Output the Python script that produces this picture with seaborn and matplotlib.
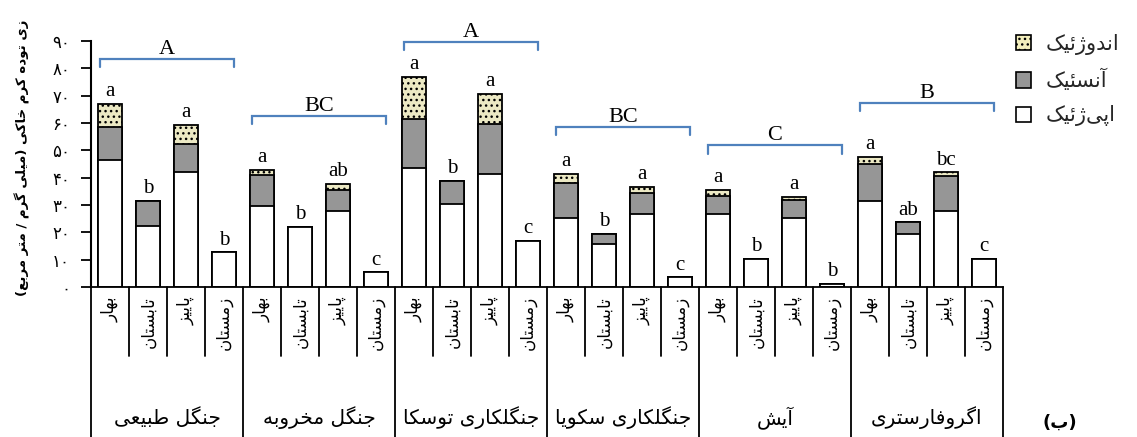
import numpy as np
import pandas as pd
import matplotlib
matplotlib.use("Agg")
import matplotlib.pyplot as plt
from matplotlib.patches import Patch
import matplotlib.transforms as mtransforms
import seaborn as sns

# ---------------- data ----------------
groups = ["جنگل طبیعی", "جنگل مخروبه", "جنگلکاری توسکا", "جنگلکاری سکویا", "آیش", "اگروفارستری"]
seasons = ["بهار", "تابستان", "پاییز", "زمستان"]
epigeic = [46.3, 22.3, 41.9, 12.7, 29.7, 21.9, 27.9, 5.4, 43.7, 30.4, 41.3, 17.0,
           25.3, 15.8, 26.7, 3.6, 26.6, 10.3, 25.4, 1.1, 31.5, 19.3, 27.9, 10.3]
anecic = [12.1, 9.3, 10.4, 0, 11.1, 0, 7.7, 0, 17.8, 8.5, 18.3, 0,
          12.9, 3.6, 7.8, 0, 6.7, 0, 6.5, 0, 13.6, 4.4, 12.8, 0]
endogeic = [8.6, 0, 7.0, 0, 2.1, 0, 2.1, 0, 15.3, 0, 11.1, 0,
            3.2, 0, 2.2, 0, 2.2, 0, 1.2, 0, 2.6, 0, 1.3, 0]
bar_letters = ["a", "b", "a", "b", "a", "b", "ab", "c", "a", "b", "a", "c",
               "a", "b", "a", "c", "a", "b", "a", "b", "a", "ab", "bc", "c"]
group_letters = ["A", "BC", "A", "BC", "C", "B"]
group_bracket_level = [83.5, 62.7, 89.6, 58.5, 51.8, 67.3]
legend_labels = ["اندوژئیک", "آنسئیک", "اپی\u200cژئیک"]
y_label = "زی توده کرم خاکی (میلی گرم / متر مربع)"
panel_label = "(ب)"
y_ticks = [0, 10, 20, 30, 40, 50, 60, 70, 80, 90]

# ---------------- simple Persian shaping ----------------
FORMS = {
    '\u0627': ('\uFE8D', '\uFE8E', None, None),
    '\u0622': ('\uFE81', '\uFE82', None, None),
    '\u0628': ('\uFE8F', '\uFE90', '\uFE91', '\uFE92'),
    '\u067E': ('\uFB56', '\uFB57', '\uFB58', '\uFB59'),
    '\u062A': ('\uFE95', '\uFE96', '\uFE97', '\uFE98'),
    '\u062C': ('\uFE9D', '\uFE9E', '\uFE9F', '\uFEA0'),
    '\u062E': ('\uFEA5', '\uFEA6', '\uFEA7', '\uFEA8'),
    '\u062F': ('\uFEA9', '\uFEAA', None, None),
    '\u0631': ('\uFEAD', '\uFEAE', None, None),
    '\u0632': ('\uFEAF', '\uFEB0', None, None),
    '\u0698': ('\uFB8A', '\uFB8B', None, None),
    '\u0633': ('\uFEB1', '\uFEB2', '\uFEB3', '\uFEB4'),
    '\u0634': ('\uFEB5', '\uFEB6', '\uFEB7', '\uFEB8'),
    '\u0637': ('\uFEC1', '\uFEC2', '\uFEC3', '\uFEC4'),
    '\u0639': ('\uFEC9', '\uFECA', '\uFECB', '\uFECC'),
    '\u0641': ('\uFED1', '\uFED2', '\uFED3', '\uFED4'),
    '\u06A9': ('\uFB8E', '\uFB8F', '\uFB90', '\uFB91'),
    '\u06AF': ('\uFB92', '\uFB93', '\uFB94', '\uFB95'),
    '\u0644': ('\uFEDD', '\uFEDE', '\uFEDF', '\uFEE0'),
    '\u0645': ('\uFEE1', '\uFEE2', '\uFEE3', '\uFEE4'),
    '\u0646': ('\uFEE5', '\uFEE6', '\uFEE7', '\uFEE8'),
    '\u0647': ('\uFEE9', '\uFEEA', '\uFEEB', '\uFEEC'),
    '\u0648': ('\uFEED', '\uFEEE', None, None),
    '\u06CC': ('\uFBFC', '\uFBFD', '\uFBFE', '\uFBFF'),
    '\u0626': ('\uFE89', '\uFE8A', '\uFE8B', '\uFE8C'),
}


def fa(text):
    chars = list(text)
    out = []
    for i, c in enumerate(chars):
        if c == '\u200c':
            continue
        if c not in FORMS:
            out.append(c)
            continue
        prev = chars[i - 1] if i > 0 else None
        nxt = chars[i + 1] if i + 1 < len(chars) else None
        jp = prev in FORMS and FORMS[prev][2] is not None
        jn = nxt in FORMS and FORMS[c][2] is not None
        iso, fin, ini, med = FORMS[c]
        if jp and jn:
            out.append(med)
        elif jp:
            out.append(fin)
        elif jn:
            out.append(ini)
        else:
            out.append(iso)
    vis = ''.join(out)[::-1]
    vis = vis.replace('(', '\0').replace(')', '(').replace('\0', ')')
    return vis


def fa_digits(n):
    return ''.join(chr(0x06F0 + int(d)) for d in str(n))


# ---------------- dataframe ----------------
keys, grp_col, sea_col = [], [], []
for gi, g in enumerate(groups):
    for si, s in enumerate(seasons):
        keys.append(f"{gi}-{si}")
        grp_col.append(g)
        sea_col.append(s)
df = pd.DataFrame({"key": keys, "group": grp_col, "season": sea_col,
                   "epi": epigeic, "ane": anecic, "endo": endogeic})
df["lvl2"] = df["epi"] + df["ane"]
df["total"] = df["lvl2"] + df["endo"]

# ---------------- plot ----------------
sns.set_theme(style="white")
plt.rcParams["font.family"] = ["DejaVu Sans"]
plt.rcParams["hatch.color"] = "#3a3a2a"
plt.rcParams["hatch.linewidth"] = 1.0

W, H = 1137, 437
fig = plt.figure(figsize=(W / 100, H / 100), dpi=100)
ax_left, ax_right, ax_top, ax_bot = 91, 1003, 41, 287
ax = fig.add_axes([ax_left / W, 1 - ax_bot / H, (ax_right - ax_left) / W, (ax_bot - ax_top) / H])

endo_col = "#f3efbd"
gray_col = "#969696"
bw = 0.63
common = dict(data=df, x="key", order=keys, errorbar=None, width=bw,
              edgecolor="black", linewidth=1.3, ax=ax)
sns.barplot(y="total", color=endo_col, hatch="...", **common)
sns.barplot(y="lvl2", color=gray_col, **common)
sns.barplot(y="epi", color="white", **common)
for p in ax.patches:
    p.set_edgecolor("black")

ax.set_xlim(-0.5, 23.5)
ax.set_ylim(0, 90)
ax.set_xlabel("")
ax.set_ylabel("")
ax.set_xticks([])
ax.set_yticks(y_ticks)
ax.set_yticklabels([fa_digits(v) for v in y_ticks], fontsize=12)
ax.tick_params(axis="y", direction="out", length=7, width=1.3, left=True, pad=8, colors="black")
for sp in ["top", "right"]:
    ax.spines[sp].set_visible(False)
ax.spines["left"].set_linewidth(1.5)
ax.spines["bottom"].set_linewidth(1.3)
ax.spines["left"].set_color("black")
ax.spines["bottom"].set_color("black")

# letters above bars
for i, (t, lab) in enumerate(zip(df["total"], bar_letters)):
    ax.text(i, t + 2.8, lab, ha="center", va="baseline", fontsize=15,
            family="Liberation Serif", color="black")

# group brackets
bcol = "#4f81bd"
for gi, (lvl, lab) in enumerate(zip(group_bracket_level, group_letters)):
    x0, x1 = 4 * gi - 0.26, 4 * gi + 3.26
    ax.plot([x0, x0, x1, x1], [lvl - 3.0, lvl, lvl, lvl - 3.0], color=bcol, lw=1.6,
            clip_on=False, solid_joinstyle="miter")
    ax.text((x0 + x1) / 2, lvl + 1.8, lab, ha="center", va="baseline", fontsize=16,
            family="Liberation Serif", color="black", clip_on=False)

# category table below axis
trans = mtransforms.blended_transform_factory(ax.transData, ax.transAxes)
axh = ax_bot - ax_top
for k in range(25):
    xk = k - 0.5
    if k % 4 == 0:
        y1 = -(H - ax_bot + 5) / axh
    else:
        y1 = -(356 - ax_bot) / axh
    ax.plot([xk, xk], [0, y1], color="black", lw=1.3, transform=trans, clip_on=False)

for i, s in enumerate(sea_col):
    ax.text(i, -(296 - ax_bot) / axh, fa(s), rotation=90, ha="center", va="top",
            fontsize=12, transform=trans, color="black")
for gi, g in enumerate(groups):
    ax.text(4 * gi + 1.5, -(418 - ax_bot) / axh, fa(g), ha="center", va="center",
            fontsize=14.5, transform=trans, color="black")

# y label and panel label
fig.text(22 / W, 1 - 158 / H, fa(y_label), rotation=90, ha="center", va="center",
         fontsize=9.6, fontweight="bold", color="black")
fig.text(1060 / W, 1 - 423 / H, fa(panel_label), ha="center", va="center",
         fontsize=13, fontweight="bold", color="black")

# legend
handles = [Patch(facecolor=endo_col, edgecolor="black", hatch="...", linewidth=1.2),
           Patch(facecolor=gray_col, edgecolor="black", linewidth=1.2),
           Patch(facecolor="white", edgecolor="black", linewidth=1.2)]
fig.legend(handles, [fa(l) for l in legend_labels], loc="upper left",
           bbox_to_anchor=(997 / W, 1 - 15 / H), frameon=False, fontsize=15,
           handlelength=0.75, handleheight=0.75, labelspacing=0.68, handletextpad=0.7)

fig.savefig("out.png", dpi=100)
